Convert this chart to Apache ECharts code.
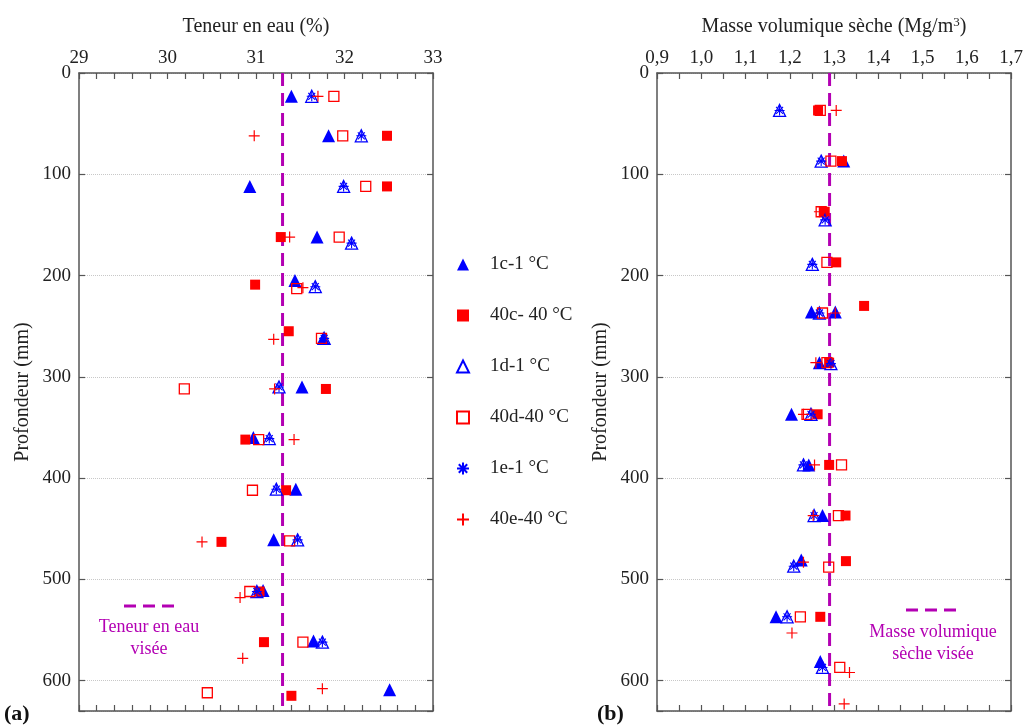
<!DOCTYPE html>
<html><head><meta charset="utf-8">
<script src="https://cdn.jsdelivr.net/npm/echarts@6/dist/echarts.min.js"></script>
<style>html,body{margin:0;padding:0;background:#fff}#c{width:1027px;height:726px}</style>
</head><body><div id="c"></div>
<script>
// ---------- names ----------
const seriesNames = ['1c-1 °C', '40c- 40 °C', '1d-1 °C', '40d-40 °C', '1e-1 °C', '40e-40 °C'];

// ---------- panel (a): Teneur en eau (%) vs depth (mm) ----------
const w1c  = [[31.40,23],[31.82,62],[30.93,112],[31.69,162],[31.44,205],[31.76,262],[31.52,310],[30.97,360],[31.45,411],[31.20,461],[31.08,511],[31.65,561],[32.51,609]];
const w40c = [[32.48,62],[32.48,112],[31.28,162],[30.99,209],[31.37,255],[31.79,312],[30.88,362],[31.34,412],[30.61,463],[31.04,512],[31.09,562],[31.40,615]];
const w1d  = [[31.63,23],[32.19,62],[31.99,112],[32.08,168],[31.67,211],[31.77,262],[31.26,310],[31.15,361],[31.23,411],[31.47,461],[31.01,512],[31.75,562]];
const w40d = [[31.88,23],[31.98,62],[32.24,112],[31.94,162],[31.46,213],[31.74,262],[30.19,312],[31.03,362],[30.96,412],[31.38,462],[30.93,512],[31.53,562],[30.45,612]];
const w1e  = [[31.63,23],[32.19,62],[31.99,112],[32.08,168],[31.67,211],[31.77,262],[31.26,310],[31.15,361],[31.23,411],[31.47,461],[31.01,512],[31.75,562]];
const w40e = [[31.70,23],[30.98,62],[31.38,162],[31.53,212],[31.20,263],[31.21,312],[31.43,362],[30.39,463],[30.82,518],[30.85,578],[31.75,608]];
const wTarget = 31.3;

// ---------- panel (b): Masse volumique sèche (Mg/m3) vs depth (mm) ----------
const d1c  = [[1.322,87],[1.249,236],[1.303,236],[1.267,286],[1.204,337],[1.243,387],[1.274,437],[1.226,481],[1.169,537],[1.269,581]];
const d40c = [[1.264,37],[1.318,87],[1.279,137],[1.305,187],[1.368,230],[1.289,286],[1.263,337],[1.289,387],[1.326,437],[1.327,482],[1.269,537]];
const d1d  = [[1.177,37],[1.271,87],[1.280,145],[1.251,189],[1.267,237],[1.293,287],[1.248,337],[1.231,387],[1.255,437],[1.209,487],[1.194,537],[1.274,587]];
const d40d = [[1.269,37],[1.293,87],[1.271,137],[1.284,187],[1.274,237],[1.284,286],[1.239,337],[1.317,387],[1.310,437],[1.288,488],[1.224,537],[1.313,587]];
const d1e  = [[1.177,37],[1.271,87],[1.280,145],[1.251,189],[1.267,237],[1.293,287],[1.248,337],[1.231,387],[1.255,437],[1.209,487],[1.194,537],[1.274,587]];
const d40e = [[1.305,37],[1.267,137],[1.303,237],[1.259,286],[1.231,337],[1.256,387],[1.253,437],[1.231,483],[1.205,553],[1.335,592],[1.323,623]];
const dTarget = 1.29;

// ---------- axes ranges ----------
const depthMin = 0, depthMax = 630, depthStep = 100;
const wMin = 29, wMax = 33, wStep = 1;
const dMin = 0.9, dMax = 1.7, dStep = 0.1;

const FONT = 'Liberation Serif';
const AX = '#555';
const PURPLE = '#b300b3';
const BLUE = '#0000ff', RED = '#ff0000';

const styles = [
  {symbol:'triangle', symbolSize:13, itemStyle:{color:BLUE, opacity:1}},
  {symbol:'rect', symbolSize:10, itemStyle:{color:RED, opacity:1}},
  {symbol:'triangle', symbolSize:12, itemStyle:{color:'rgba(255,255,255,0)', borderColor:BLUE, borderWidth:1.3, opacity:1}},
  {symbol:'rect', symbolSize:10, itemStyle:{color:'rgba(255,255,255,0)', borderColor:RED, borderWidth:1.3, opacity:1}},
  {symbol:'path://M5,0L5,10M0,5L10,5M1.5,1.5L8.5,8.5M8.5,1.5L1.5,8.5', symbolSize:10, itemStyle:{color:'rgba(0,0,0,0)', borderColor:BLUE, borderWidth:1.1, opacity:1}},
  {symbol:'path://M5,0L5,10M0,5L10,5', symbolSize:11, itemStyle:{color:'rgba(0,0,0,0)', borderColor:RED, borderWidth:1.2, opacity:1}}
];

const panelA = [w1c, w40c, w1d, w40d, w1e, w40e];
const panelB = [d1c, d40c, d1d, d40d, d1e, d40e];

function xAxes(g, min, max, step, minorSplit, fmt, name) {
  const common = {
    gridIndex:g, type:'value', min, max, interval:step,
    axisLine:{show:true, onZero:false, lineStyle:{color:AX, width:1.5}},
    axisTick:{show:true, inside:true, length:6, lineStyle:{color:AX, width:1.2}},
    minorTick:{show:true, splitNumber:minorSplit, length:6, lineStyle:{color:AX, width:1.2}},
    splitLine:{show:false}
  };
  return [
    Object.assign({}, common, {
      position:'top',
      axisLabel:{show:true, fontFamily:FONT, fontSize:19, color:'#222', margin:5, formatter:fmt},
      name, nameLocation:'middle', nameGap:36,
      nameTextStyle:{fontFamily:FONT, fontSize:20, color:'#222', rich:{sup:{fontFamily:FONT, fontSize:13, color:'#222', verticalAlign:'top', padding:[0,0,8,0]}}}
    }),
    Object.assign({}, common, {position:'bottom', axisLabel:{show:false}})
  ];
}
function yAxes(g) {
  const common = {
    gridIndex:g, type:'value', inverse:true, min:depthMin, max:depthMax, interval:depthStep,
    axisLine:{show:true, onZero:false, lineStyle:{color:AX, width:1.5}},
    axisTick:{show:true, inside:true, length:6, lineStyle:{color:AX, width:1.2}}
  };
  return [
    Object.assign({}, common, {
      position:'left',
      axisLabel:{fontFamily:FONT, fontSize:19, color:'#222', margin:8, formatter:v => (v % 100 === 0 ? String(v) : '')},
      splitLine:{show:true, lineStyle:{type:'dotted', color:'#c8c8c8', width:1}},
      name:'Profondeur (mm)', nameLocation:'middle', nameGap:46,
      nameTextStyle:{fontFamily:FONT, fontSize:20, color:'#222'}
    }),
    Object.assign({}, common, {position:'right', axisLabel:{show:false}, splitLine:{show:false}})
  ];
}

const xAxis = [
  ...xAxes(0, wMin, wMax, wStep, 5, v => String(Math.round(v)), 'Teneur en eau (%)'),
  ...xAxes(1, dMin, dMax, dStep, 2, v => v.toFixed(1).replace('.', ','), 'Masse volumique sèche (Mg/m{sup|3})')
];
const yAxis = [...yAxes(0), ...yAxes(1)];

const series = [];
function addPanel(data, xi, yi) {
  data.forEach((arr, i) => {
    series.push(Object.assign({
      name: seriesNames[i], type:'scatter', xAxisIndex:xi, yAxisIndex:yi, data:arr, z: 3 + i
    }, styles[i]));
  });
}
addPanel(panelA, 0, 0);
addPanel(panelB, 2, 2);
series.push({type:'line', xAxisIndex:0, yAxisIndex:0, data:[[wTarget, depthMin],[wTarget, depthMax]], symbol:'none', silent:true,
  lineStyle:{color:PURPLE, width:3, type:[13,7]}, z:2});
series.push({type:'line', xAxisIndex:2, yAxisIndex:2, data:[[dTarget, depthMin],[dTarget, depthMax]], symbol:'none', silent:true,
  lineStyle:{color:PURPLE, width:3, type:[13,7]}, z:2});

const option = {
  backgroundColor:'#fff',
  animation:false,
  grid:[
    {left:79, top:73, width:354, height:638},
    {left:657, top:73, width:354, height:638}
  ],
  xAxis, yAxis, series,
  legend:{
    data: seriesNames, orient:'vertical', left:451, top:250, padding:5,
    itemWidth:12, itemHeight:12, itemGap:32,
    textStyle:{fontFamily:FONT, fontSize:19, color:'#222', padding:[0,0,0,16]}
  },
  graphic:[
    {type:'line', shape:{x1:124, y1:606, x2:174, y2:606}, style:{stroke:PURPLE, lineWidth:3, lineDash:[12,7]}},
    {type:'text', x:149, y:627, style:{text:'Teneur en eau', fontFamily:FONT, fontSize:18, fill:PURPLE, textAlign:'center', textVerticalAlign:'middle'}},
    {type:'text', x:149, y:649, style:{text:'visée', fontFamily:FONT, fontSize:18, fill:PURPLE, textAlign:'center', textVerticalAlign:'middle'}},
    {type:'line', shape:{x1:906, y1:610, x2:956, y2:610}, style:{stroke:PURPLE, lineWidth:3, lineDash:[12,7]}},
    {type:'text', x:933, y:632, style:{text:'Masse volumique', fontFamily:FONT, fontSize:18, fill:PURPLE, textAlign:'center', textVerticalAlign:'middle'}},
    {type:'text', x:933, y:654, style:{text:'sèche visée', fontFamily:FONT, fontSize:18, fill:PURPLE, textAlign:'center', textVerticalAlign:'middle'}},
    {type:'text', x:4, y:714, style:{text:'(a)', fontFamily:FONT, fontSize:22, fontWeight:'bold', fill:'#111', textVerticalAlign:'middle'}},
    {type:'text', x:597, y:714, style:{text:'(b)', fontFamily:FONT, fontSize:22, fontWeight:'bold', fill:'#111', textVerticalAlign:'middle'}}
  ]
};
const chart = echarts.init(document.getElementById('c'), null, {renderer:'canvas'});
chart.setOption(option);
</script></body></html>
